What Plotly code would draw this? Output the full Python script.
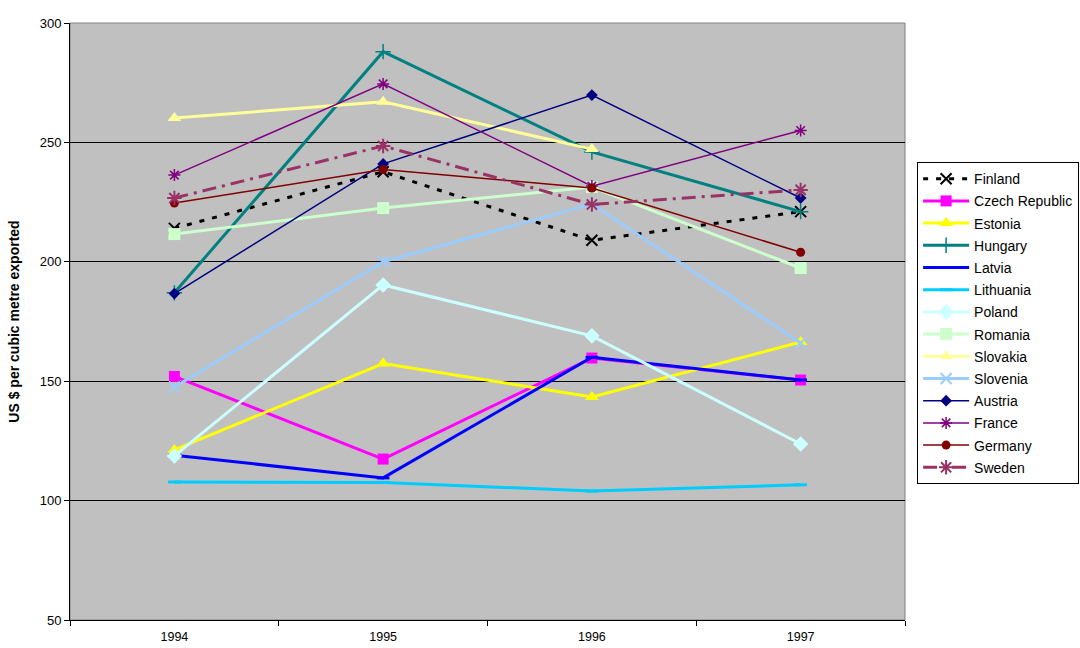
import plotly.graph_objects as go

years = ["1994", "1995", "1996", "1997"]

finland = [214, 237.7, 209, 221]
czech_republic = [152, 117.4, 159.7, 150.5]
estonia = [121.2, 157.4, 143.4, 166.4]
hungary = [187, 288, 246, 221]
latvia = [119, 109.5, 160, 150.5]
lithuania = [107.8, 107.6, 104, 106.6]
poland = [118.7, 190.3, 169, 123.7]
romania = [211.6, 222.5, 231.3, 197.4]
slovakia = [260.2, 267, 247.2, None]
slovenia = [147.6, 200, 224.2, 166]
austria = [186.7, 241, 269.8, 226.7]
france = [236.3, 274.5, 231.7, 255]
germany = [224.6, 238.6, 230.9, 204]
sweden = [226.7, 248.5, 224, 230.1]

series = [
    ("Finland", finland, dict(color="#000000", width=3, dash="5px,8px"),
     dict(symbol="x-thin-open", size=11, line=dict(color="#000000", width=2))),
    ("Czech Republic", czech_republic, dict(color="#FF00FF", width=3),
     dict(symbol="square", size=11, color="#FF00FF")),
    ("Estonia", estonia, dict(color="#FFFF00", width=3),
     dict(symbol="triangle-up", size=12, color="#FFFF00")),
    ("Hungary", hungary, dict(color="#008080", width=3),
     dict(symbol="cross-thin-open", size=11, line=dict(color="#008080", width=1.5))),
    ("Latvia", latvia, dict(color="#0000FF", width=3),
     dict(symbol="line-ew-open", size=9, line=dict(color="#0000FF", width=3))),
    ("Lithuania", lithuania, dict(color="#00CCFF", width=3),
     dict(symbol="line-ew-open", size=9, line=dict(color="#00CCFF", width=3))),
    ("Poland", poland, dict(color="#CCFFFF", width=3),
     dict(symbol="diamond", size=12, color="#CCFFFF")),
    ("Romania", romania, dict(color="#CCFFCC", width=3),
     dict(symbol="square", size=12, color="#CCFFCC")),
    ("Slovakia", slovakia, dict(color="#FFFF99", width=3),
     dict(symbol="triangle-up", size=12, color="#FFFF99")),
    ("Slovenia", slovenia, dict(color="#99CCFF", width=3),
     dict(symbol="x-thin-open", size=11, line=dict(color="#99CCFF", width=2))),
    ("Austria", austria, dict(color="#000080", width=1.5),
     dict(symbol="diamond", size=9, color="#000080")),
    ("France", france, dict(color="#800080", width=1.5),
     dict(symbol="asterisk-open", size=10, line=dict(color="#800080", width=1.5))),
    ("Germany", germany, dict(color="#800000", width=1.5),
     dict(symbol="circle", size=9, color="#800000")),
    ("Sweden", sweden, dict(color="#993366", width=3, dash="14px,6px,3px,6px"),
     dict(symbol="asterisk-open", size=12, line=dict(color="#993366", width=2))),
]

fig = go.Figure()
for i, (name, vals, line, marker) in enumerate(series):
    fig.add_trace(go.Scatter(
        x=years, y=vals, name=name, mode="lines+markers",
        line=line, marker=marker, connectgaps=False,
        legendgroup=f"g{i}",
    ))

fig.update_layout(
    width=1080, height=648,
    margin=dict(l=70, r=175, t=23, b=28, autoexpand=False),
    paper_bgcolor="#FFFFFF",
    plot_bgcolor="#C0C0C0",
    font=dict(family="Liberation Sans, Arial, sans-serif", size=12, color="#000000"),
    showlegend=True,
    legend=dict(
        x=1.0145, y=0.767, xanchor="left", yanchor="top",
        bgcolor="#FFFFFF", bordercolor="#000000", borderwidth=1,
        font=dict(size=14), tracegroupgap=1, itemwidth=46,
        traceorder="grouped",
    ),
    xaxis=dict(
        type="category", range=[-0.5, 3.5], automargin=False,
        tickson="boundaries", ticks="outside", ticklen=5, tickcolor="#000000",
        showline=True, linecolor="#000000", linewidth=1,
        showgrid=False, zeroline=False,
        tickfont=dict(size=12.5), ticklabelstandoff=5,
    ),
    yaxis=dict(
        range=[50, 300], dtick=50, tick0=50, automargin=False,
        ticks="outside", ticklen=5, tickcolor="#000000",
        showline=True, linecolor="#000000", linewidth=1,
        showgrid=True, gridcolor="#000000", gridwidth=1,
        zeroline=False, tickfont=dict(size=13),
        title=dict(text="<b>US $ per cubic metre exported</b>", font=dict(size=14), standoff=16),
    ),
    shapes=[dict(type="rect", xref="paper", yref="paper", x0=0, x1=1, y0=0, y1=1,
                 line=dict(color="#808080", width=1), layer="below")],
)

fig.write_html("out.html")
